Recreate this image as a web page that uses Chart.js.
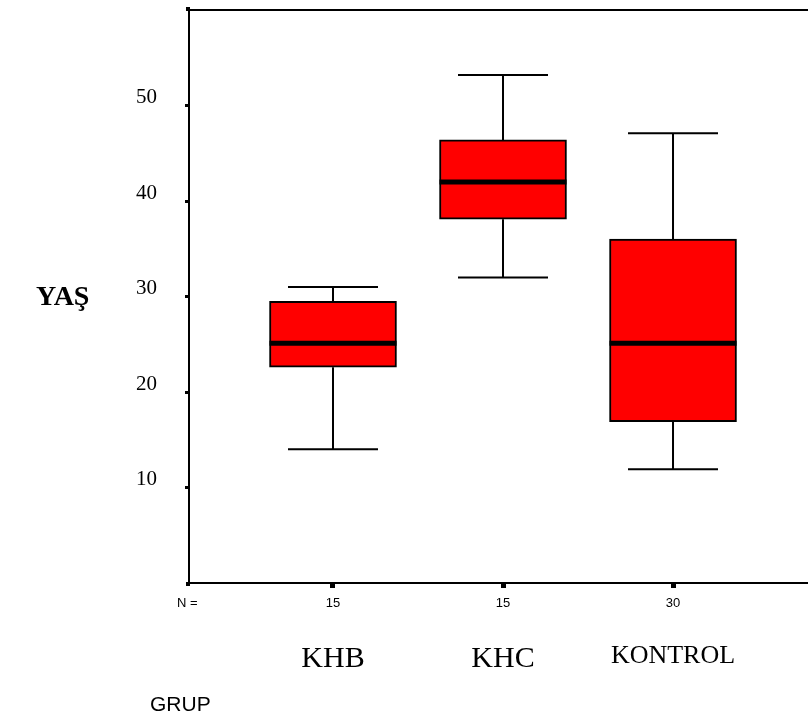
<!DOCTYPE html>
<html>
<head>
<meta charset="utf-8">
<script src="https://cdn.jsdelivr.net/npm/chart.js@4.4.1/dist/chart.umd.min.js"></script>
<style>
  html, body { margin: 0; padding: 0; background: #fff; }
  #wrap { width: 808px; height: 720px; }
</style>
</head>
<body>
<div id="wrap"><canvas id="chartYas" width="808" height="720"></canvas></div>
<script>
// --- VERI ---
const gruplar = ['KHB', 'KHC', 'KONTROL'];
const nDegerleri = [15, 15, 30];
const minimum = [14, 32, 11.9];
const q1 = [22.6, 38.1, 16.9];
const medyan = [25.1, 42, 25.1];
const q3 = [29.5, 46.4, 36];
const maksimum = [31, 53.2, 47.1];
const yTickleri = [10, 20, 30, 40, 50];

// x ekseni sinirlari (gruplar 1, 2, 3 konumunda)
const xMin = 0.153;
const xMax = 3.794;

// biyik ve medyan cizgileri
const kutuCizgileri = {
    id: 'kutuCizgileri',
    afterDatasetsDraw(chart) {
        const { ctx, scales: { x, y } } = chart;
        const meta = chart.getDatasetMeta(0);
        ctx.save();
        ctx.strokeStyle = '#000';
        gruplar.forEach((g, i) => {
            const px = x.getPixelForValue(i + 1);
            const yMax = y.getPixelForValue(maksimum[i]);
            const yMin = y.getPixelForValue(minimum[i]);
            ctx.lineWidth = 2;
            ctx.beginPath();
            ctx.moveTo(px, y.getPixelForValue(q3[i]));
            ctx.lineTo(px, yMax);
            ctx.moveTo(px, y.getPixelForValue(q1[i]));
            ctx.lineTo(px, yMin);
            ctx.moveTo(px - 45, yMax);
            ctx.lineTo(px + 45, yMax);
            ctx.moveTo(px - 45, yMin);
            ctx.lineTo(px + 45, yMin);
            ctx.stroke();
            // medyan
            const yarim = meta.data[i].width / 2;
            const ym = y.getPixelForValue(medyan[i]);
            ctx.lineWidth = 5;
            ctx.beginPath();
            ctx.moveTo(px - yarim, ym);
            ctx.lineTo(px + yarim, ym);
            ctx.stroke();
        });
        ctx.restore();
    }
};

// ust cerceve ve diger yazilar
const cerceveYazi = {
    id: 'cerceveYazi',
    afterDraw(chart) {
        const { ctx, chartArea } = chart;
        ctx.save();
        ctx.strokeStyle = '#000';
        ctx.lineWidth = 2;
        ctx.beginPath();
        ctx.moveTo(chartArea.left - 1, chartArea.top);
        ctx.lineTo(chartArea.right, chartArea.top);
        ctx.stroke();
        ctx.fillStyle = '#000';
        ctx.fillRect(chartArea.left - 3, chartArea.top - 3, 4, 4);
        ctx.fillRect(chartArea.left - 3, chartArea.bottom - 1, 4, 4);

        ctx.textBaseline = 'middle';
        ctx.textAlign = 'left';
        ctx.font = 'bold 28px "Liberation Serif"';
        ctx.fillText('YAŞ', 36, 298);
        ctx.font = '13px "Liberation Sans"';
        ctx.fillText('N =', 177, 603);
        ctx.font = '21px "Liberation Sans"';
        ctx.fillText('GRUP', 150, 705);
        ctx.restore();
    }
};

const sifirPadding = s => { s.paddingTop = 0; s.paddingBottom = 0; s.paddingLeft = 0; s.paddingRight = 0; };

const ctxYas = document.getElementById('chartYas').getContext('2d');
new Chart(ctxYas, {
    type: 'bar',
    data: {
        datasets: [{
            label: 'YAŞ',
            data: gruplar.map((g, i) => ({ x: i + 1, y: [q1[i], q3[i]] })),
            backgroundColor: '#FF0000',
            borderColor: '#000000',
            borderWidth: 2,
            borderSkipped: false,
            barThickness: 127
        }]
    },
    options: {
        responsive: false,
        devicePixelRatio: 1,
        animation: false,
        layout: { padding: { top: 10, right: 0, bottom: 0, left: 0 } },
        plugins: {
            legend: { display: false },
            tooltip: { enabled: false }
        },
        scales: {
            x: {
                type: 'linear',
                position: 'bottom',
                offset: false,
                min: xMin,
                max: xMax,
                afterBuildTicks: s => { s.ticks = nDegerleri.map((n, i) => ({ value: i + 1 })); },
                afterFit: s => { s.height = 40; sifirPadding(s); },
                ticks: {
                    callback: (v, i) => nDegerleri[i],
                    font: { family: 'Liberation Sans', size: 13 },
                    color: '#000',
                    padding: 8,
                    maxRotation: 0,
                    autoSkip: false
                },
                grid: { display: true, offset: false, drawOnChartArea: false, drawTicks: true, tickLength: 5, tickWidth: 5, tickColor: '#000' },
                border: { display: true, color: '#000', width: 2 }
            },
            x2: {
                type: 'linear',
                position: 'bottom',
                offset: false,
                min: xMin,
                max: xMax,
                afterBuildTicks: s => { s.ticks = gruplar.map((g, i) => ({ value: i + 1 })); },
                afterFit: s => { s.height = 97; sifirPadding(s); },
                ticks: {
                    callback: (v, i) => gruplar[i],
                    font: c => ({ family: 'Liberation Serif', size: c.index === 2 ? 26 : 30 }),
                    color: '#000',
                    padding: 10,
                    maxRotation: 0,
                    autoSkip: false
                },
                grid: { display: false, offset: false },
                border: { display: false }
            },
            y: {
                type: 'linear',
                min: 0,
                max: 60,
                afterBuildTicks: s => { s.ticks = yTickleri.map(v => ({ value: v })); },
                afterFit: s => { s.width = 189; sifirPadding(s); },
                ticks: {
                    font: { family: 'Liberation Serif', size: 21 },
                    color: '#000',
                    padding: 28,
                    labelOffset: -8
                },
                grid: { display: true, drawOnChartArea: false, drawTicks: true, tickLength: 4, tickWidth: 3, tickColor: '#000' },
                border: { display: true, color: '#000', width: 2 }
            }
        }
    },
    plugins: [kutuCizgileri, cerceveYazi]
});
</script>
</body>
</html>
